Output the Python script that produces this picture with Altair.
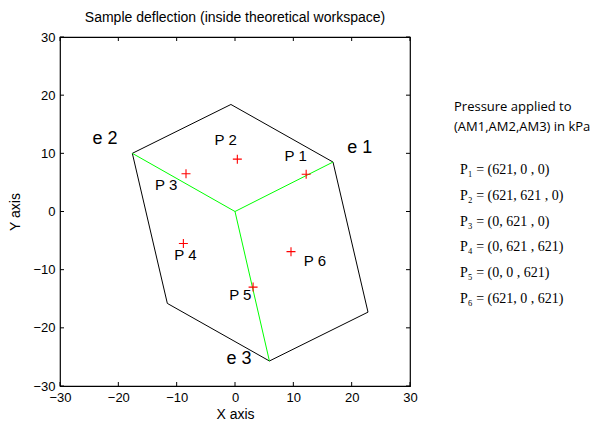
import altair as alt
import pandas as pd

W, H = 350, 349

# ---- data ----
tick_values = [-30, -20, -10, 0, 10, 20, 30]

# workspace outline (closed hexagon)
hex_x = [-0.7, 16.8, 22.8, 5.9, -11.6, -17.6, -0.7]
hex_y = [18.4, 8.5, -17.3, -25.7, -15.8, 10.0, 18.4]

# green spokes from the centre to e1, e2, e3
centre_x = [0.0, 0.0, 0.0]
centre_y = [0.0, 0.0, 0.0]
spoke_x = [16.8, -17.6, 5.9]
spoke_y = [8.5, 10.0, -25.7]

# measured deflection points P1..P6
point_x = [12.2, 0.4, -8.4, -8.85, 3.1, 9.6]
point_y = [6.4, 9.0, 6.5, -5.5, -13.0, -6.9]

# point labels inside the plot
p_label_text = ["P 1", "P 2", "P 3", "P 4", "P 5", "P 6"]
p_label_x = [10.4, -1.6, -11.8, -8.5, 0.9, 13.7]
p_label_y = [9.5, 12.3, 4.5, -7.5, -14.4, -8.5]

# edge labels
e_label_text = ["e 1", "e 2", "e 3"]
e_label_x = [21.4, -22.3, 0.7]
e_label_y = [10.9, 12.5, -25.3]

title_text = "Sample deflection (inside theoretical workspace)"
x_title = "X axis"
y_title = "Y axis"

note_header = ["Pressure applied to", "(AM1,AM2,AM3) in kPa"]
note_names = ["P\u2081", "P\u2082", "P\u2083", "P\u2084", "P\u2085", "P\u2086"]
note_am1 = [621, 621, 0, 0, 0, 621]
note_am2 = [0, 621, 621, 621, 0, 0]
note_am3 = [0, 0, 0, 621, 621, 621]

# ---- tables ----
hex_df = pd.DataFrame({"x": hex_x, "y": hex_y, "i": list(range(len(hex_x)))})
spoke_df = pd.DataFrame({"x": centre_x, "y": centre_y, "x2": spoke_x, "y2": spoke_y})
pt_df = pd.DataFrame({"x": point_x, "y": point_y})
plab_df = pd.DataFrame({"x": p_label_x, "y": p_label_y, "t": p_label_text})
elab_df = pd.DataFrame({"x": e_label_x, "y": e_label_y, "t": e_label_text})
tick_df = pd.DataFrame({"x": tick_values, "y": tick_values})
header_df = pd.DataFrame({"t": ["\n".join(note_header)]})
note_lines = [f"{n} = ({a}, {b} , {c})" for n, a, b, c in zip(note_names, note_am1, note_am2, note_am3)]
note_df = pd.DataFrame({"t": ["\n".join(note_lines)]})

xs = alt.Scale(domain=[-30, 30], nice=False, zero=False)
ys = alt.Scale(domain=[-30, 30], nice=False, zero=False)

sans = "Liberation Sans, Arial"
xax = alt.Axis(values=tick_values, grid=False, domain=False, ticks=False,
               labelFont=sans, labelFontSize=13, labelColor="black",
               labelPadding=5, labelFlush=False,
               titleFont=sans, titleFontSize=14, titleFontWeight="normal",
               titleColor="black", titlePadding=3)
yax = alt.Axis(values=tick_values, grid=False, domain=False, ticks=False,
               labelFont=sans, labelFontSize=13, labelColor="black",
               labelPadding=5, labelFlush=False,
               titleFont=sans, titleFontSize=14, titleFontWeight="normal",
               titleColor="black", titlePadding=10)


def X(f):
    return alt.X(f, type="quantitative", scale=xs, axis=xax, title=x_title)


def Y(f):
    return alt.Y(f, type="quantitative", scale=ys, axis=yax, title=y_title)


outline = alt.Chart(hex_df).mark_line(color="black", strokeWidth=1).encode(
    x=X("x"), y=Y("y"), order="i:Q")

spokes = alt.Chart(spoke_df).mark_rule(color="#00ff00", strokeWidth=1).encode(
    x=X("x"), y=Y("y"), x2="x2:Q", y2="y2:Q")

points = alt.Chart(pt_df).mark_point(
    shape="M-1,0L1,0M0,-1L0,1", size=81, stroke="#ff0000", color="#ff0000",
    filled=False, strokeWidth=1.1, opacity=1).encode(x=X("x"), y=Y("y"))

p_labels = alt.Chart(plab_df).mark_text(
    font=sans, fontSize=15, color="black", baseline="middle").encode(
    x=X("x"), y=Y("y"), text="t:N")

e_labels = alt.Chart(elab_df).mark_text(
    font=sans, fontSize=18, color="black", baseline="middle").encode(
    x=X("x"), y=Y("y"), text="t:N")

tick_b = alt.Chart(tick_df).mark_rule(color="black").encode(
    x=X("x"), y=alt.value(H), y2=alt.value(H - 4))
tick_t = alt.Chart(tick_df).mark_rule(color="black").encode(
    x=X("x"), y=alt.value(0), y2=alt.value(4))
tick_l = alt.Chart(tick_df).mark_rule(color="black").encode(
    y=Y("y"), x=alt.value(0), x2=alt.value(4))
tick_r = alt.Chart(tick_df).mark_rule(color="black").encode(
    y=Y("y"), x=alt.value(W), x2=alt.value(W - 4))

header = alt.Chart(header_df).mark_text(
    align="left", baseline="top", lineBreak="\n", lineHeight=20,
    font="Open Sans, Liberation Sans", fontSize=13, color="black").encode(
    x=alt.value(W + 44), y=alt.value(64), text="t:N")

notes = alt.Chart(note_df).mark_text(
    align="left", baseline="top", lineBreak="\n", lineHeight=25.8,
    font="Liberation Serif, DejaVu Serif", fontSize=14, color="black").encode(
    x=alt.value(W + 50), y=alt.value(126), text="t:N")

chart = alt.layer(
    outline, spokes, tick_b, tick_t, tick_l, tick_r, points, p_labels, e_labels,
    header, notes
).properties(
    width=W, height=H,
    title=alt.Title(title_text, font=sans, fontSize=14, fontWeight="normal",
                    color="black", offset=6, anchor="middle"),
    padding={"left": 0, "top": 3, "right": 0, "bottom": 0},
    background="white",
).configure_view(stroke="black", strokeWidth=1.2)

chart.save("out.html", embed_options={"renderer": "svg", "actions": False})
